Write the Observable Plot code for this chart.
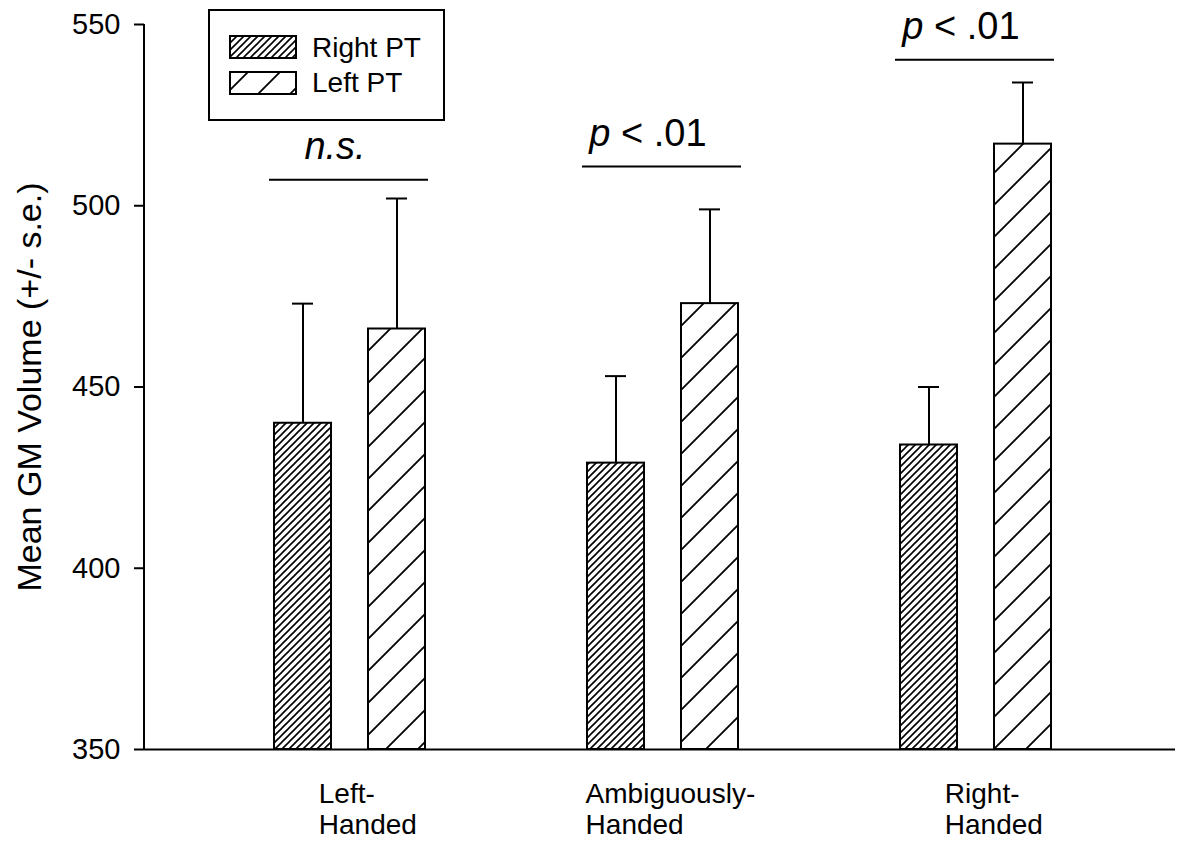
<!DOCTYPE html>
<html><head><meta charset="utf-8">
<script src="https://cdn.jsdelivr.net/npm/d3@7"></script>
<script src="https://cdn.jsdelivr.net/npm/@observablehq/plot@0.6"></script>
<style>
body{margin:0;background:#fff;overflow:hidden}
svg{font-family:"Liberation Sans",Arial,sans-serif;display:block}
</style>
</head><body><div id="chart"></div>
<script>
const groups = ["Left-Handed", "Ambiguously-Handed", "Right-Handed"];
const groupLabels = ["Left-\nHanded", "Ambiguously-\nHanded", "Right-\nHanded"];
const series = ["Right PT", "Left PT"];
const rightPT = [440, 429, 434];
const rightPTse = [33, 24, 16];
const leftPT = [466, 473, 517];
const leftPTse = [36, 26, 17];
const sigItalic = ["n.s.", "p", "p"];
const sigRest = ["", " < .01", " < .01"];
const sigLevels = [507.2, 510.8, 540.3];
const yTicks = [350, 400, 450, 500, 550];
const yTitle = "Mean GM Volume (+/- s.e.)";

const bars = groups.flatMap((g, i) => [
  {group: g, series: series[0], value: rightPT[i], se: rightPTse[i]},
  {group: g, series: series[1], value: leftPT[i], se: leftPTse[i]}
]);
const sig = groups.map((g, i) => ({group: g, label: sigItalic[i] + sigRest[i], level: sigLevels[i]}));

const fills = {"Right PT": "url(#hatch-dense)", "Left PT": "url(#hatch-sparse)"};
const offsets = {"Right PT": -47, "Left PT": 47};
const marginLeft = 144;

const barMarks = series.flatMap(s => {
  const d = bars.filter(b => b.series === s);
  return [
    Plot.ruleX(d, {x: "group", y1: "value", y2: r => r.value + r.se, dx: offsets[s], stroke: "black", strokeWidth: 2}),
    Plot.tickY(d, {x: "group", y: r => r.value + r.se, dx: offsets[s], insetLeft: 18, insetRight: 18, stroke: "black", strokeWidth: 2}),
    Plot.barY(d, {x: "group", y1: yTicks[0], y2: "value", dx: offsets[s], fill: fills[s], stroke: "black", strokeWidth: 2})
  ];
});

const xLabelMarks = groups.map((g, i) => {
  const lines = groupLabels[i].split("\n");
  const longest = d3.max(lines, l => l.length);
  return Plot.text([g], {x: d => d, frameAnchor: "bottom", text: () => groupLabels[i],
    textAnchor: "start", lineAnchor: "top", lineHeight: 1.1, fontSize: 28,
    dx: -longest * 7.7 + 15, dy: 32, fill: "black"});
});

const chart = Plot.plot({
  width: 1181,
  height: 841,
  marginLeft: marginLeft,
  marginRight: 6,
  marginTop: 24,
  marginBottom: 92,
  style: {fontFamily: "Liberation Sans, Arial, sans-serif", background: "white", color: "black"},
  x: {domain: groups, axis: null, paddingInner: 0.8185, paddingOuter: 0.551, align: 0.509},
  y: {domain: [yTicks[0], yTicks[yTicks.length - 1]], axis: null},
  marks: [
    Plot.axisY({ticks: yTicks, tickSize: 10, tickFormat: () => "", label: null, strokeWidth: 2}),
    Plot.text(yTicks, {y: d => d, text: d => String(d), frameAnchor: "left", textAnchor: "end", dx: -24, fontSize: 29, fill: "black"}),
    Plot.ruleY([yTicks[0]], {stroke: "black", strokeWidth: 2}),
    ...barMarks,
    Plot.tickY(sig, {x: "group", y: "level", insetLeft: -52, insetRight: -50, stroke: "black", strokeWidth: 2}),
    Plot.text(sig, {x: "group", y: "level", text: "label", dx: -15, dy: -21, lineAnchor: "bottom", fontSize: 38, fill: "black"}),
    Plot.text([yTitle], {frameAnchor: "left", text: d => d, textAnchor: "middle", rotate: -90, dx: -114, fontSize: 34, fill: "black"}),
    ...xLabelMarks
  ]
});

document.getElementById("chart").appendChild(chart);

const svg = d3.select(chart);
// hatch patterns
const defs = svg.insert("defs", ":first-child");
const dense = defs.append("pattern").attr("id", "hatch-dense").attr("patternUnits", "userSpaceOnUse").attr("width", 7).attr("height", 7);
dense.append("rect").attr("width", 7).attr("height", 7).attr("fill", "white");
dense.append("path").attr("d", "M-1,1 l2,-2 M0,7 l7,-7 M6,8 l2,-2").attr("stroke", "black").attr("stroke-width", 1.6);
const sparse = defs.append("pattern").attr("id", "hatch-sparse").attr("patternUnits", "userSpaceOnUse").attr("width", 32).attr("height", 32);
sparse.append("rect").attr("width", 32).attr("height", 32).attr("fill", "white");
sparse.append("path").attr("d", "M-2,2 l4,-4 M0,32 l32,-32 M30,34 l4,-4").attr("stroke", "black").attr("stroke-width", 1.8);

// italic parts of significance labels
svg.selectAll("text").each(function() {
  const t = d3.select(this);
  const idx = sig.findIndex(s => s.label === this.textContent);
  if (idx >= 0 && this.childElementCount === 0) {
    t.text(null);
    t.append("tspan").attr("font-style", "italic").text(sigItalic[idx]);
    if (sigRest[idx]) t.append("tspan").text(sigRest[idx]);
  }
});

// y axis line
const ys = chart.scale("y");
svg.append("line")
  .attr("x1", marginLeft).attr("x2", marginLeft)
  .attr("y1", ys.apply(yTicks[0]) + 1).attr("y2", ys.apply(yTicks[yTicks.length - 1]))
  .attr("stroke", "black").attr("stroke-width", 2);

// legend
const lg = svg.append("g").attr("text-anchor", "start");
lg.append("rect").attr("x", 209).attr("y", 10).attr("width", 235).attr("height", 110)
  .attr("fill", "white").attr("stroke", "black").attr("stroke-width", 2);
series.forEach((s, i) => {
  lg.append("rect").attr("x", 230).attr("y", 36 + 36 * i).attr("width", 66).attr("height", 22)
    .attr("fill", fills[s]).attr("stroke", "black").attr("stroke-width", 2);
  lg.append("text").attr("x", 312).attr("y", 57 + 35 * i).attr("font-size", 28)
    .attr("text-anchor", "start").attr("fill", "black").text(s);
});
</script>
</body></html>
